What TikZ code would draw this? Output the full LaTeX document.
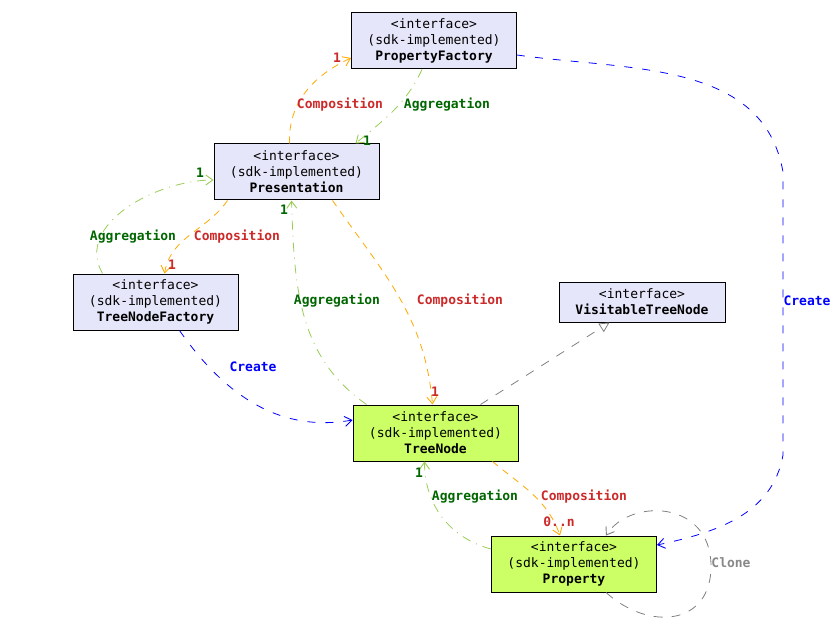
\documentclass[tikz,border=0pt]{standalone}
\usepackage{fontspec}
\setmonofont{DejaVu Sans Mono}
\usetikzlibrary{arrows.meta}
\definecolor{ifill}{HTML}{E6E6FA}
\definecolor{gfill}{HTML}{CCFF66}
\definecolor{compline}{HTML}{FFAA00}
\definecolor{compText}{HTML}{CC2929}
\definecolor{aggline}{HTML}{99CC55}
\definecolor{aggText}{HTML}{006600}
\definecolor{crline}{HTML}{0000FF}
\definecolor{grayline}{HTML}{808080}
\definecolor{grayText}{HTML}{888888}
\begin{document}
\begin{tikzpicture}[x=1pt,y=-1pt,
  every node/.style={font=\ttfamily\fontsize{13}{16}\selectfont},
  iface/.style={draw=black,line width=1pt,fill=ifill,align=center,
    minimum width=165pt,minimum height=56pt,inner sep=0pt},
  gface/.style={iface,fill=gfill},
  barb/.style={-{Straight Barb[length=7pt,width=10pt,line width=0.9pt]}},
  comp/.style={draw=compline,line width=0.8pt,dash pattern=on 7pt off 6pt,barb},
  agg/.style={draw=aggline,line width=0.8pt,dash pattern=on 9pt off 6pt on 1pt off 6pt,barb},
  create/.style={draw=crline,line width=0.8pt,dash pattern=on 8pt off 10pt,barb},
  clone/.style={draw=grayline,line width=0.8pt,dash pattern=on 9pt off 9pt,barb},
  realize/.style={draw=grayline,line width=0.8pt,dash pattern=on 9pt off 9pt,
    -{Triangle[open,length=10pt,width=10pt,line width=0.8pt]}},
  cl/.style={text=compText,font=\ttfamily\bfseries\fontsize{13}{16}\selectfont,inner sep=0pt},
  al/.style={text=aggText,font=\ttfamily\bfseries\fontsize{13}{16}\selectfont,inner sep=0pt},
  crl/.style={text=crline,font=\ttfamily\bfseries\fontsize{13}{16}\selectfont,inner sep=0pt},
  gl/.style={text=grayText,font=\ttfamily\bfseries\fontsize{13}{16}\selectfont,inner sep=0pt},
]
\useasboundingbox (0,0) rectangle (840,639);

% interfaces
\node[iface] (pf) at (434,41) {<interface>\\(sdk-implemented)\\\textbf{PropertyFactory}};
\node[iface] (pres) at (296.5,172) {<interface>\\(sdk-implemented)\\\textbf{Presentation}};
\node[iface] (tnf) at (155.5,302) {<interface>\\(sdk-implemented)\\\textbf{TreeNodeFactory}};
\node[iface,minimum width=166pt,minimum height=40pt] (vtn) at (642,302) {<interface>\\\textbf{VisitableTreeNode}};
\node[gface] (tn) at (435.5,433) {<interface>\\(sdk-implemented)\\\textbf{TreeNode}};
\node[gface] (prop) at (574,564) {<interface>\\(sdk-implemented)\\\textbf{Property}};

% Presentation <-> PropertyFactory
\draw[comp] ([xshift=76pt]pres.north west) to[out=92,in=205] ([yshift=-17pt]pf.west);
\node[cl] (m1) at (337,58) {1};
\node[cl] (c1) at (340,105) {Composition};
\draw[agg] ([xshift=71pt]pf.south west) to[out=-115,in=40] ([xshift=142pt]pres.north west);
\node[al] (m2) at (367,141) {1};
\node[al] (a2) at (447,105) {Aggregation};

% Presentation <-> TreeNodeFactory
\draw[agg] ([xshift=30pt]tnf.north west) to[out=120,in=180] ([yshift=-8pt]pres.west);
\node[al] (m3) at (200,173) {1};
\node[al] (a3) at (133,237) {Aggregation};
\draw[comp] ([xshift=14pt]pres.south west) to[out=-125,in=80] ([xshift=92pt]tnf.north west);
\node[cl] (m4) at (172,265) {1};
\node[cl] (c4) at (237,237) {Composition};

% Presentation <-> TreeNode
\draw[agg] ([xshift=14pt]tn.north west) to[out=145,in=-88] ([xshift=78pt]pres.south west);
\node[al] (m5) at (284,210) {1};
\node[al] (a5) at (337,301) {Aggregation};
\draw[comp] ([xshift=119pt]pres.south west) to[out=-55,in=95] ([xshift=80pt]tn.north west);
\node[cl] (m6) at (435,392) {1};
\node[cl] (c6) at (460,301) {Composition};

% TreeNode realizes VisitableTreeNode
\draw[realize] ([xshift=128pt]tn.north west) -- ([xshift=51pt]vtn.south west);

% factories create instances
\draw[create] ([xshift=107pt]tnf.south west) to[out=-55,in=190] ([yshift=13pt]tn.west);
\node[crl] (k8) at (253,367) {Create};
\draw[create] ([yshift=-14pt]pf.east) to[out=-8,in=100] (783,172) -- (783,455) to[out=-100,in=12] ([yshift=19pt]prop.east);
\node[crl] (k9) at (807,301) {Create};

% TreeNode <-> Property
\draw[agg] ([yshift=15pt]prop.west) to[out=165,in=-90] ([xshift=72pt]tn.south west);
\node[al] (m10) at (419,473) {1};
\node[al] (a10) at (475,497) {Aggregation};
\draw[comp] ([xshift=140pt]tn.south west) to[out=-40,in=110] ([xshift=69pt]prop.north west);
\node[cl] (m11) at (559,522) {0..n};
\node[cl] (c11) at (584,497) {Composition};

% Property clone loop
\draw[clone] ([xshift=115pt]prop.south west) .. controls (650,632) and (712,625) .. (711,565)
  .. controls (710,500) and (630,498) .. ([xshift=115pt]prop.north west);
\node[gl] (k12) at (731,563) {Clone};
\end{tikzpicture}
\end{document}
